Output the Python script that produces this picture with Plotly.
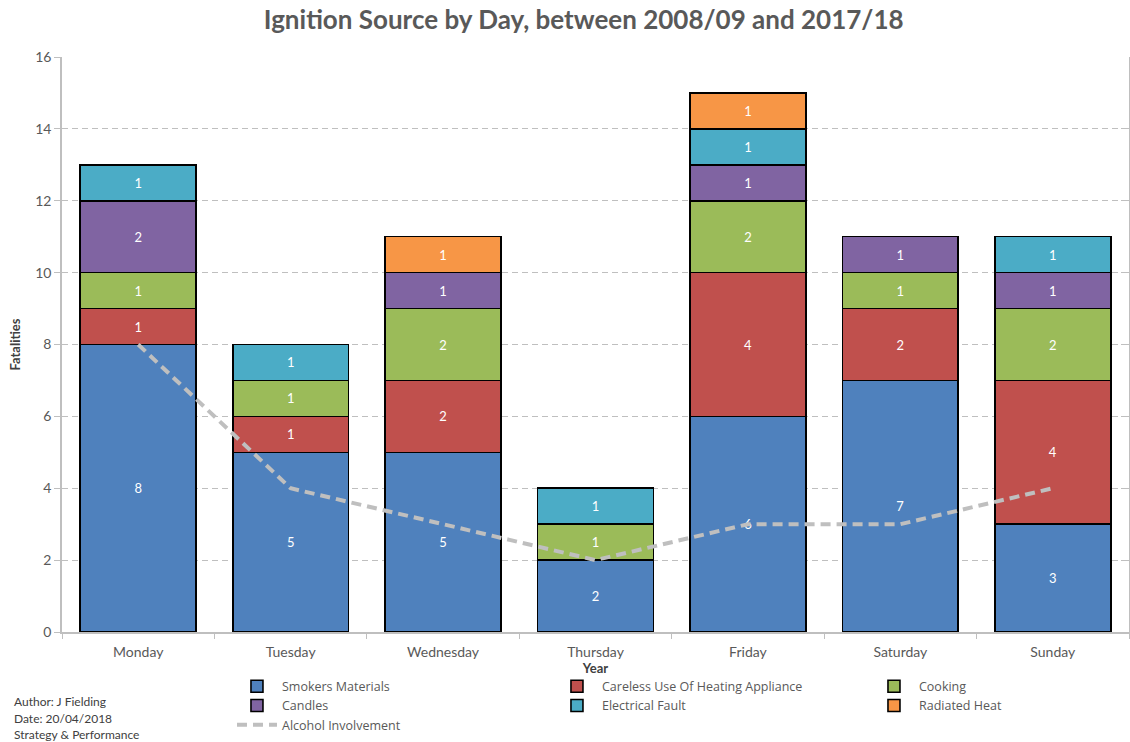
import plotly.graph_objects as go

days = ["Monday", "Tuesday", "Wednesday", "Thursday", "Friday", "Saturday", "Sunday"]

smokers_materials = [8, 5, 5, 2, 6, 7, 3]
careless_heating = [1, 1, 2, 0, 4, 2, 4]
cooking = [1, 1, 2, 1, 2, 1, 2]
candles = [2, 0, 1, 0, 1, 1, 1]
electrical_fault = [1, 1, 0, 1, 1, 0, 1]
radiated_heat = [0, 0, 1, 0, 1, 0, 0]
alcohol_involvement = [8, 4, 3, 2, 3, 3, 4]

y_ticks = [0, 2, 4, 6, 8, 10, 12, 14, 16]

# (name, values, colour, legend column)
series = [
    ("Smokers Materials", smokers_materials, "#4F81BD", "legend"),
    ("Careless Use Of Heating Appliance", careless_heating, "#C0504D", "legend2"),
    ("Cooking", cooking, "#9BBB59", "legend3"),
    ("Candles", candles, "#8064A2", "legend"),
    ("Electrical Fault", electrical_fault, "#4BACC6", "legend2"),
    ("Radiated Heat", radiated_heat, "#F79646", "legend3"),
]

FONT = "Lato"
GREY_TXT = "#595959"

fig = go.Figure()

for name, vals, color, leg in series:
    fig.add_trace(go.Bar(
        x=days,
        y=[v if v else None for v in vals],
        name=name,
        legend=leg,
        marker=dict(color=color, line=dict(color="#000000", width=1.6)),
        text=[str(v) if v else "" for v in vals],
        textposition="inside",
        insidetextanchor="middle",
        textangle=0,
        textfont=dict(color="#FFFFFF", size=13, family=FONT),
        constraintext="none",
        hoverinfo="x+y+name",
    ))

fig.add_trace(go.Scatter(
    x=days,
    y=alcohol_involvement,
    name="Alcohol Involvement",
    legend="legend",
    mode="lines",
    line=dict(color="#BFBFBF", width=4, dash="10px,6px"),
    yaxis="y2",
))

legend_common = dict(
    orientation="v",
    xanchor="left",
    y=-0.069, yanchor="top",
    traceorder="normal",
    font=dict(size=12.5, color=GREY_TXT, family="Open Sans"),
    bgcolor="rgba(0,0,0,0)",
    itemwidth=40,
    tracegroupgap=0,
)

fig.update_layout(
    width=1130,
    height=742,
    barmode="stack",
    bargap=0.24,
    plot_bgcolor="#FFFFFF",
    paper_bgcolor="#FFFFFF",
    margin=dict(l=62, r=1, t=57, b=110, autoexpand=False),
    font=dict(family=FONT, color=GREY_TXT, size=13),
    title=dict(
        text="<b>Ignition Source by Day, between 2008/09 and 2017/18</b>",
        x=0.489, xanchor="center", xref="paper",
        y=0.973, yanchor="middle", yref="container",
        font=dict(family=FONT, size=26, color=GREY_TXT),
    ),
    xaxis=dict(
        type="category",
        categoryorder="array",
        categoryarray=days,
        showline=True, linecolor="#BFBFBF", linewidth=1.5,
        ticks="outside", tickson="boundaries", ticklen=5, tickcolor="#BFBFBF",
        ticklabelstandoff=6,
        tickfont=dict(size=14, color=GREY_TXT, family=FONT),
        title=dict(text="<b>Year</b>", standoff=3,
                   font=dict(size=13, color="#404040", family=FONT)),
        showgrid=False,
        zeroline=False,
    ),
    yaxis=dict(
        range=[0, 16],
        tickvals=y_ticks,
        showline=True, linecolor="#BFBFBF", linewidth=1.5,
        ticks="outside", ticklen=6, tickcolor="#BFBFBF",
        tickfont=dict(size=14, color=GREY_TXT, family=FONT),
        showgrid=True, gridcolor="#BFBFBF", gridwidth=1, griddash="6px,4px",
        zeroline=False,
        title=dict(text="<b>Fatalities</b>", standoff=12,
                   font=dict(size=13, color="#404040", family=FONT)),
    ),
    yaxis2=dict(
        overlaying="y",
        side="right",
        range=[0, 16],
        tickvals=y_ticks,
        showticklabels=False,
        showline=True, linecolor="#BFBFBF", linewidth=1.5,
        ticks="inside", ticklen=8, tickcolor="#BFBFBF",
        showgrid=False, zeroline=False,
    ),
    legend=dict(x=0.1593, **legend_common),
    legend2=dict(x=0.4592, **legend_common),
    legend3=dict(x=0.7563, **legend_common),
    showlegend=True,
)

foot = ["Author: J Fielding", "Date: 20/04/2018", "Strategy & Performance"]
foot_y = [-0.12, -0.1496, -0.179]
for t, yy in zip(foot, foot_y):
    fig.add_annotation(
        text=t, xref="paper", yref="paper",
        x=-0.047, y=yy, xanchor="left", yanchor="middle",
        showarrow=False, font=dict(size=12, color="#404040", family=FONT),
    )

fig.write_html("out.html")
